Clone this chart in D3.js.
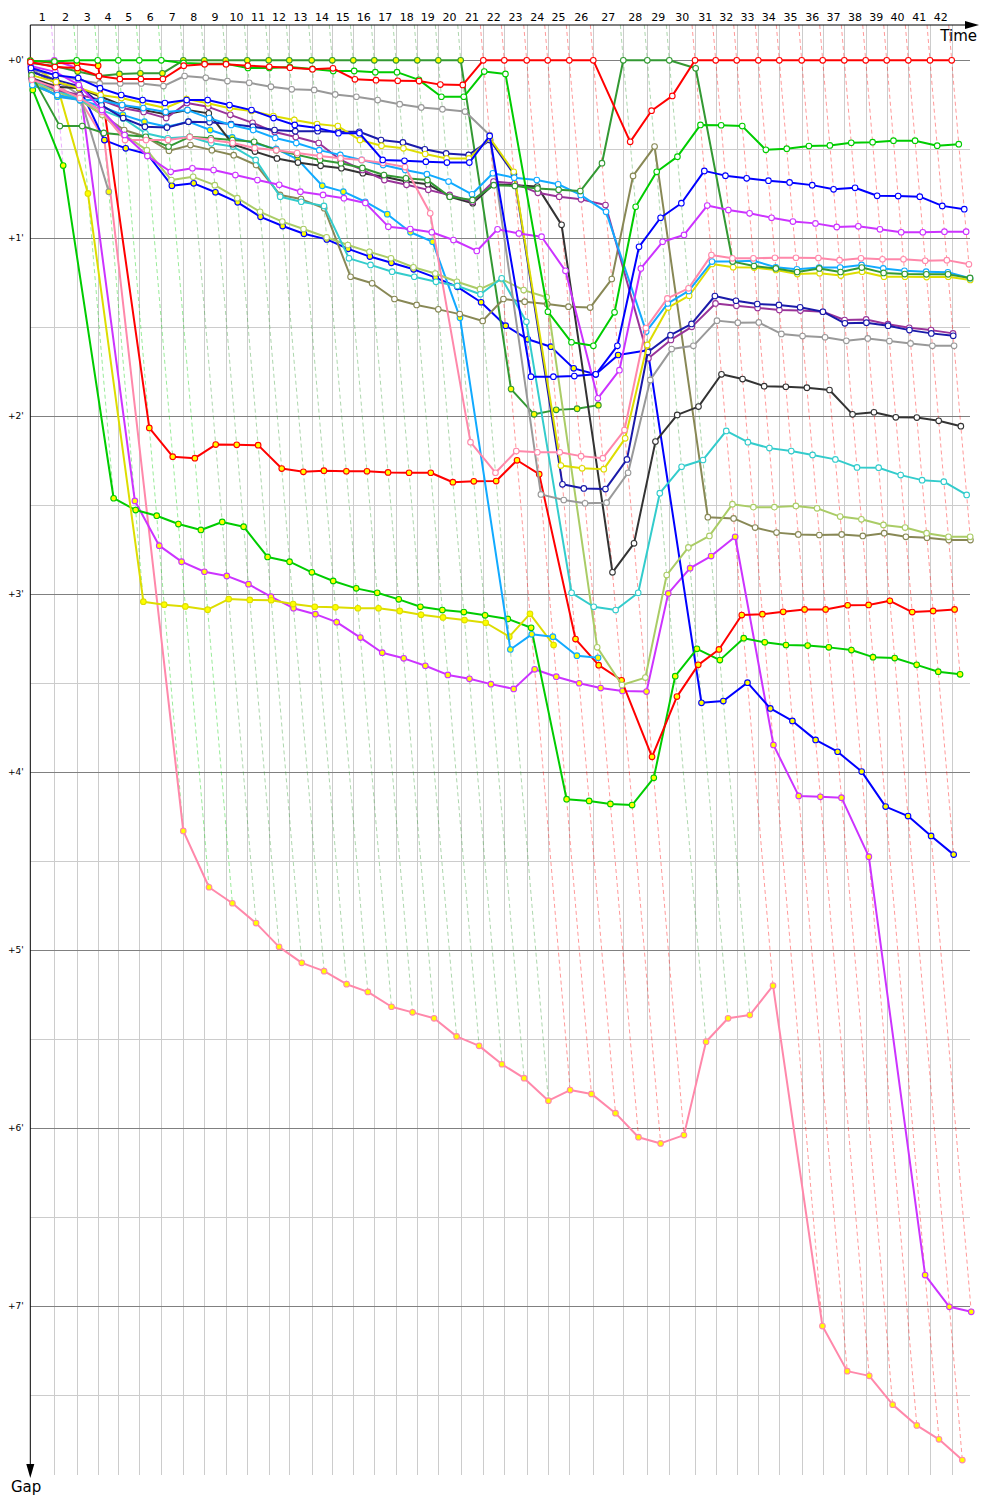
<!DOCTYPE html>
<html><head><meta charset="utf-8">
<script src="https://cdn.jsdelivr.net/npm/d3@7"></script>
<style>body{margin:0;background:#fff}svg{display:block}</style>
</head><body>
<script>
// Leader lap durations (s), laps 1..42
const lapTimes = [96,89.6,84,82.4,84,88,88,84,85.6,86.4,85.6,82.4,89.6,82.4,84,84,86.8,85.2,84,89.6,90.4,84,89.6,84,86.4,96,120,96,88,102.8,82.8,84,86.4,84,89.6,84,86.4,85.6,84,86.4,86.8,86.8];
const gapMinutes = [0,1,2,3,4,5,6,7];
// Gap to leader (s) per lap, starting at lap 0
const R1 = [0.6,2.3,2.6,5.3,6.3,6.3,6.3,1.8,1.3,1.3,1.8,2.2,2.5,3.0,2.7,6.4,6.7,6.9,7.0,8.2,8.3,0,0,0,0,0,0,27.5,17.0,12.0,0,0,0,0,0,0,0,0,0,0,0,0,0];
const R2 = [0.1,0.9,1.0,1.8,124.0,133.7,134.2,129.6,129.7,129.8,137.7,138.8,138.4,138.6,138.6,139.0,139.1,139.1,142.3,142.0,141.9,134.9,139.6,195.2,204.0,209.1,234.9,214.6,203.9,198.7,187.1,186.8,186.0,185.2,185.2,183.8,183.7,182.3,186.1,185.7,185.2];
const G1 = [0.2,0.4,0,0,0,0,0,0.9,1.2,1.2,2.6,2.6,2.3,2.9,3.6,3.6,4.0,4.0,6.6,12.3,12.3,3.8,4.6,84.8,95.1,96.3,85.0,49.4,37.6,32.5,21.8,21.9,22.2,30.2,29.8,28.9,28.7,27.8,27.6,27.1,27.1,28.8,28.3];
const G2 = [0.9,1.9,3.8,5.3,4.6,4.4,4.4,0,0,0,0,0,0,0,0,0,0,0,0,0,0,110.9,119.4,117.9,117.5,116.3];
const G3 = [10.0,35.5,147.7,151.7,153.6,156.4,158.4,155.7,157.3,167.5,169.1,172.7,175.6,178.1,179.6,181.8,184.3,185.4,186.1,187.2,188.4,191.4,249.2,249.8,250.8,251.2,242.0,207.7,198.5,202.3,194.9,196.3,197.2,197.4,198.0,198.9,201.3,201.6,203.9,206.2,207.1];
const DG1 = [5.0,22.2,22.2,24.5,25.2,25.8,29.1,25.8,26.3,26.9,27.5,30.3,31.9,33.6,34.7,36.3,38.7,39.8,40.4,46.0,47.1,42.1,42.4,43.2,43.7,44.1,34.7,0,0,0,2.7,67.9,69.4,70.2,71.4,70.2,71.4,69.9,71.7,72.1,72.2,72.2,73.4];
const B1 = [2.6,5.0,6.0,9.4,11.7,13.4,14.4,13.4,13.4,15.1,16.8,19.5,21.8,22.8,24.6,24.6,33.6,33.9,34.2,34.5,34.5,25.5,106.7,106.7,106.5,105.9,96.3,62.9,53.1,48.2,37.3,38.9,39.8,40.6,41.2,42.1,43.5,43.0,45.7,45.8,46.0,49.1,50.2];
const N1 = [3.9,6.6,8.7,15.1,19.5,22.4,22.7,20.7,20.9,21.5,22.4,23.5,23.9,23.9,24.1,24.1,26.9,27.7,30.0,31.4,31.9,26.9,38.4,143.0,144.4,144.6,134.6,98.4,92.7,88.9,79.5,81.1,82.2,82.5,83.3,84.8,88.7,88.5,89.5,91.0,92.1,92.9];
const B2 = [3.3,7.8,8.9,26.9,29.7,31.6,42.3,41.5,44.5,47.9,52.8,55.9,58.5,60.4,63.6,66.2,68.3,70.5,73.3,76.4,81.6,89.5,94.1,96.6,103.9,105.9,99.4,97.8,216.7,216.1,209.9,218.6,222.8,229.2,233.2,239.9,251.7,254.9,261.6,267.9];
const M1 = [1.9,3.9,8.3,16.8,25.2,32.3,37.6,36.4,37.0,38.7,40.4,42.0,44.3,45.4,46.5,48.1,56.1,56.9,58.0,60.6,64.3,57.0,58.4,59.5,71.0,114.0,104.5,70.2,61.2,58.9,49.0,50.5,51.6,53.1,54.4,55.0,56.2,56.0,57.0,58.0,58.0,57.8,57.8];
const M2 = [0.6,0,2.7,148.6,163.7,169.1,172.5,173.9,176.7,180.9,184.8,186.8,189.5,194.7,199.8,201.7,204.2,207.3,208.6,210.4,212.0,205.4,207.9,210.1,211.7,212.7,212.9,179.8,171.3,167.2,160.7,230.9,248.1,248.4,248.7,268.6,409.7,420.4,422.1];
const P1 = [6.6,9.3,12.7,17.4,26.9,26.9,26.9,25.9,26.9,27.9,29.6,30.3,31.3,32.3,33.0,33.6,34.6,36.0,51.6,128.8,139.1,131.8,132.2,132.2,133.5,134.2,124.7,90.3,80.3,76.9,65.7,66.8,66.8,66.6,66.6,66.7,67.4,66.8,67.1,67.1,67.6,67.4,68.8];
const P2 = [7.3,8.3,13.4,26.9,259.9,278.9,284.3,291.0,299.0,304.4,307.2,311.6,314.2,319.2,321.1,323.1,329.2,332.4,338.6,343.3,350.9,347.3,348.6,355.1,363.2,365.3,362.5,331.0,323.1,322.0,312.1,426.9,442.1,443.7,453.4,460.4,465.1,472.1];
const LB1 = [8.3,11.7,13.4,13.4,15.1,16.1,17.4,16.8,19.5,21.8,23.5,26.2,27.9,30.3,31.9,33.6,35.3,37.0,38.4,40.9,45.2,38.1,39.6,40.4,41.8,45.4,51.1,91.5,82.0,77.8,67.9,67.9,67.6,69.8,70.5,69.9,69.9,69.0,70.2,71.0,71.3,71.5,73.5];
const LB2 = [6.6,12.3,13.4,15.6,18.4,20.7,22.4,20.7,23.5,26.0,28.0,29.9,33.4,42.3,44.3,47.7,51.9,58.0,61.2,86.8,198.7,193.6,194.4,200.8,201.5];
const Y1 = [5.0,7.3,9.3,11.7,12.7,14.4,16.1,13.1,14.5,16.2,17.1,18.8,20.1,21.5,22.2,26.9,28.8,29.7,31.6,33.1,33.1,26.2,37.6,136.7,137.6,137.9,127.5,96.0,83.4,79.4,68.7,69.8,69.9,70.7,72.1,71.8,72.6,71.3,73.0,73.0,73.1,73.0,74.1];
const Y2 = [1.6,7.2,44.9,182.6,183.6,184.2,185.3,181.7,182.0,182.1,183.4,184.3,184.5,184.8,184.8,185.7,187.0,187.9,188.8,189.7,194.4,186.7,197.2];
const DP1 = [6.0,10.0,11.7,13.4,16.1,17.4,19.5,14.4,15.7,18.4,21.1,24.2,25.9,27.9,33.6,37.0,40.4,42.0,43.7,45.4,47.7,40.9,41.5,44.7,46.0,46.9,48.8,100.5,94.3,89.9,82.0,82.8,83.5,84.2,84.4,84.8,87.6,87.4,89.0,90.2,91.0,92.1];
const Gr1 = [3.3,5.0,6.6,7.8,7.8,7.8,8.7,5.3,5.9,7.0,7.6,8.9,9.8,10.0,11.5,12.3,13.4,14.8,15.9,16.5,17.3,25.2,146.4,148.3,149.4,149.2,139.1,107.8,97.4,96.3,87.8,88.5,88.4,92.3,93.0,93.4,94.6,93.8,94.7,95.5,96.3,96.3];
const Gr2 = [3.9,6.6,11.7,44.3];
const K1 = [6.0,8.9,9.4,12.3,15.1,16.8,18.2,16.8,17.9,28.3,30.8,33.1,34.5,35.6,36.4,38.1,39.3,40.9,41.8,46.0,48.2,41.8,42.1,42.6,55.5,172.7,162.9,128.6,119.6,116.8,105.9,107.5,109.9,110.1,110.4,111.2,119.4,118.7,120.4,120.5,121.6,123.4];
const C1 = [6.6,10.0,13.4,16.8,19.6,24.6,26.3,25.8,28.0,29.1,33.6,46.0,47.7,49.1,66.8,69.0,71.3,73.0,74.7,76.1,78.9,73.5,88.2,179.6,184.3,185.4,179.6,146.0,137.1,134.8,125.0,128.8,130.8,131.8,133.1,134.6,137.3,137.4,139.9,141.6,142.1,146.6];
const LO1 = [7.3,10.7,13.4,18.4,25.2,30.3,40.4,39.3,42.1,46.5,51.1,54.4,56.9,59.7,62.3,64.6,66.8,69.8,71.9,74.7,77.2,73.8,77.5,79.9,198.0,210.7,208.2,173.6,164.3,160.4,149.7,150.7,150.7,150.3,151.1,153.9,154.8,156.7,157.6,159.5,160.7,160.7];
const O1 = [8.3,11.7,13.4,18.4,23.5,25.8,30.5,28.6,30.3,32.0,35.3,45.4,46.8,49.9,73.0,75.2,80.5,82.5,84.0,85.6,87.9,80.5,81.4,82.2,83.1,83.4,73.8,39.0,29.1,154.1,154.5,157.6,159.3,159.9,160.1,159.9,160.4,159.5,160.7,161.0,161.8,161.8];

// styles: [series, stroke colour, filled-yellow marker]
const seriesStyles = [
  [P2,'#ff88aa',true],[M2,'#cc33ff',true],[B2,'#0000ff',true],[G3,'#00cc00',true],[R2,'#ff0000',true],
  [Gr2,'#999999',true],[Y2,'#dddd00',true],[LB2,'#11aaff',true],[G2,'#339933',true],
  [O1,'#888855',false],[LO1,'#aacc66',false],[C1,'#33cccc',false],[K1,'#333333',false],[Gr1,'#999999',false],
  [DP1,'#993399',false],[N1,'#1a1aaa',false],[Y1,'#dddd00',false],[LB1,'#11aaff',false],[DG1,'#339933',false],
  [P1,'#ff88aa',false],[M1,'#cc33ff',false],[B1,'#0000ff',false],[G1,'#00cc00',false],[R1,'#ff0000',false]
];

const cum = [0];
lapTimes.forEach(t => cum.push(cum[cum.length - 1] + t));

const W = 1000, H = 1500;
const svg = d3.select('body').append('svg').attr('width', W).attr('height', H)
  .style('font-family', '"DejaVu Sans", Verdana, sans-serif');

const x = d3.scaleLinear().domain([0, 3700]).range([30.3, 30.3 + 925]);
const y = d3.scaleLinear().domain([0, 480]).range([60.3, 60.3 + 480 * 2.965]);
const yTop = 25, yBot = 1475, xRight = 970, x0 = x(0);
const snap = v => Math.round(v) + 0.5;

// vertical grid at each leader crossing
svg.append('g').selectAll('line').data(d3.range(1, lapTimes.length + 1)).join('line')
  .attr('x1', n => snap(x(cum[n]))).attr('x2', n => snap(x(cum[n])))
  .attr('y1', yTop).attr('y2', yBot).attr('stroke', '#cccccc');

// horizontal grid (30 s)
svg.append('g').selectAll('line').data(d3.range(0, 451, 30)).join('line')
  .attr('x1', x0).attr('x2', xRight)
  .attr('y1', s => snap(y(s))).attr('y2', s => snap(y(s)))
  .attr('stroke', s => s % 60 === 0 ? '#808080' : '#cccccc');

// lap lines (dashed), coloured by leader of that lap
const allSeries = seriesStyles.map(([g, c, f]) => ({gaps: g, color: c, yellow: f}));
const lapLines = d3.range(1, lapTimes.length + 1).map(n => {
  const present = allSeries.filter(s => s.gaps.length > n);
  const gmax = d3.max(present, s => s.gaps[n]);
  const leader = d3.least(present, s => s.gaps[n]);
  const gTop = y.invert(yTop);
  return {n, gmax, gTop, color: leader.color};
});
svg.append('g').selectAll('line').data(lapLines).join('line')
  .attr('x1', d => x(cum[d.n] + d.gTop)).attr('y1', d => y(d.gTop))
  .attr('x2', d => x(cum[d.n] + d.gmax)).attr('y2', d => y(d.gmax))
  .attr('stroke', d => d.color).attr('stroke-opacity', 0.4)
  .attr('stroke-width', 1).attr('stroke-dasharray', '4,3');

// axes
svg.append('line').attr('x1', x0).attr('x2', 968).attr('y1', yTop).attr('y2', yTop).attr('stroke', '#000');
svg.append('path').attr('d', `M965,${yTop - 4}L979,${yTop}L965,${yTop + 4}Z`).attr('fill', '#000');
svg.append('line').attr('x1', x0).attr('x2', x0).attr('y1', yTop).attr('y2', 1468).attr('stroke', '#000');
svg.append('path').attr('d', `M${x0 - 4},1464L${x0},1478L${x0 + 4},1464Z`).attr('fill', '#000');

svg.append('text').attr('x', 977).attr('y', 41).attr('text-anchor', 'end')
  .attr('font-size', 15).text('Time');
svg.append('text').attr('x', 11).attr('y', 1492).attr('font-size', 15).text('Gap');

// lap labels
svg.append('g').selectAll('text').data(d3.range(1, lapTimes.length + 1)).join('text')
  .attr('x', n => x((cum[n - 1] + cum[n]) / 2)).attr('y', 21)
  .attr('text-anchor', 'middle').attr('font-size', 11).text(n => n);

// gap labels
svg.append('g').selectAll('text').data(gapMinutes).join('text')
  .attr('x', 8).attr('y', m => y(m * 60) + 3).attr('font-size', 9)
  .text(m => `+${m}'`);

// driver traces
const line = d3.line().x(d => x(cum[d.lap] + d.g)).y(d => y(d.g));
allSeries.forEach(s => {
  const pts = s.gaps.map((g, lap) => ({lap, g}));
  const grp = svg.append('g');
  grp.append('path').attr('d', line(pts)).attr('fill', 'none')
    .attr('stroke', s.color).attr('stroke-width', 2).attr('stroke-linejoin', 'round');
  grp.selectAll('circle').data(pts).join('circle')
    .attr('cx', d => x(cum[d.lap] + d.g)).attr('cy', d => y(d.g)).attr('r', 2.8)
    .attr('fill', s.yellow ? '#ffff00' : '#ffffff')
    .attr('stroke', s.color).attr('stroke-width', 1.1);
});
</script>
</body></html>
